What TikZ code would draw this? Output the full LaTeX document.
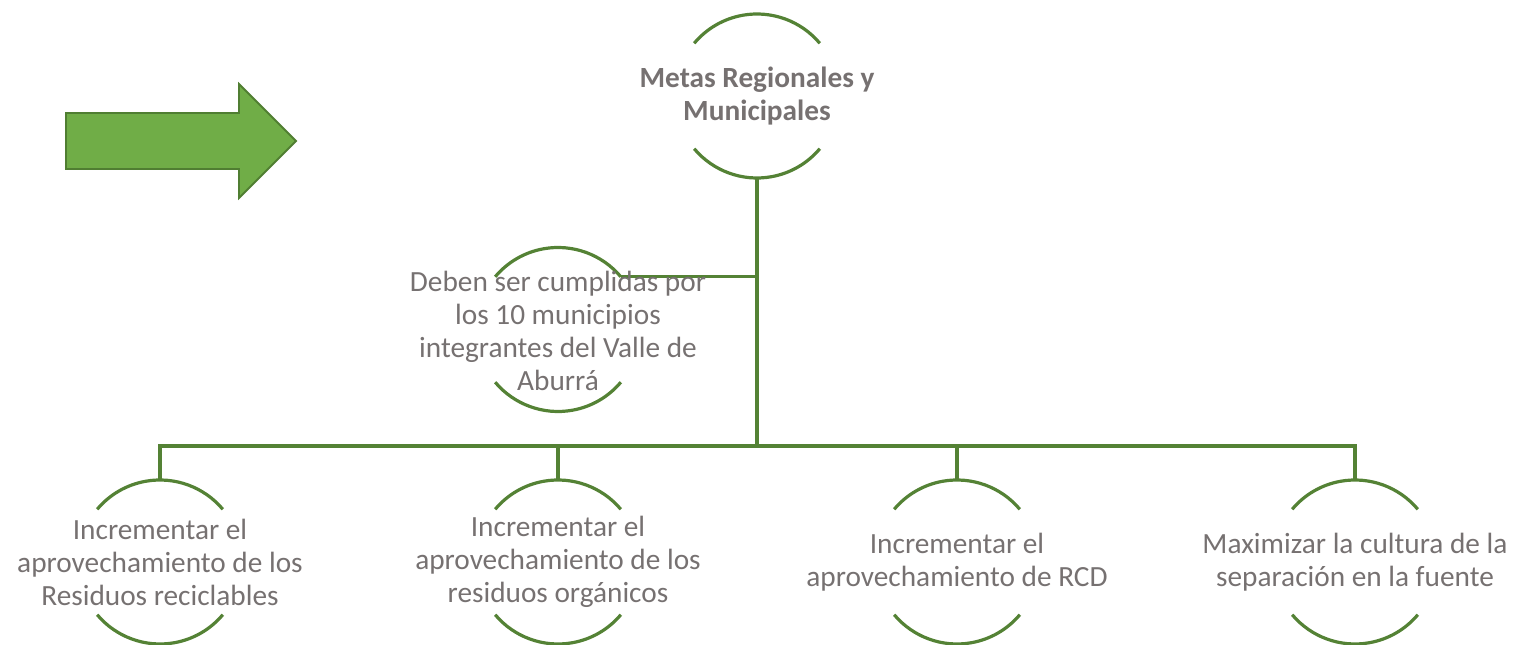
\documentclass[tikz,border=0pt]{standalone}
\usepackage{fontspec}
\setmainfont{Carlito}
\definecolor{lg}{HTML}{548235}
\definecolor{af}{HTML}{70AD47}
\definecolor{ab}{HTML}{507E32}
\definecolor{tg}{HTML}{767171}
\tikzset{
  line/.style={draw=lg,line width=3.2pt},
  gcirc/.style={circle,minimum size=164pt,inner sep=0pt,outer sep=0pt,draw=none},
  lbl/.style={text=tg,align=center,font=\fontsize{29.3}{33}\selectfont,inner sep=0pt},
  arc/.style={draw=lg,line width=3.2pt},
  bigarrow/.style={fill=af,draw=ab,line width=1.8pt,line join=miter}
}
\newcommand\goalnode[4]{%
  \node[gcirc] (#1) at (#2,#3) {};
  \draw[arc] (#1.40) arc[start angle=40,end angle=140,radius=82];
  \draw[arc] (#1.220) arc[start angle=220,end angle=320,radius=82];
}
\begin{document}
\begin{tikzpicture}[x=1pt,y=1pt]
\useasboundingbox (0,0) rectangle (1513,645);
% block arrow
\draw[bigarrow] (66,532) -- (239,532) -- (239,561) -- (296,504) -- (239,447) -- (239,476) -- (66,476) -- cycle;
% nodes
\goalnode{top}{757}{549}{}
\goalnode{side}{558}{315.5}{}
\goalnode{b1}{160}{83}{}
\goalnode{b2}{558}{83}{}
\goalnode{b3}{957}{83}{}
\goalnode{b4}{1355}{83}{}
\coordinate (bus) at (757,199);
% connectors
\draw[line] (top.south) -- (bus);
\draw[line] (side.40) -- (side.40 -| top.south);
\draw[line] (b1.north) -- (b1.north |- bus) -- (b4.north |- bus) -- (b4.north);
\draw[line] (b2.north) -- (b2.north |- bus);
\draw[line] (b3.north) -- (b3.north |- bus);
% labels
\node[lbl,font=\fontsize{29.3}{33}\selectfont\bfseries] (top-t) at (top) {Metas Regionales y\\Municipales};
\node[lbl] (side-t) at (558,314) {Deben ser cumplidas por\\los 10 municipios\\integrantes del Valle de\\Aburrá};
\node[lbl] (b1-t) at (b1) {Incrementar el\\aprovechamiento de los\\Residuos reciclables};
\node[lbl] (b2-t) at (b2) {Incrementar el\\aprovechamiento de los\\residuos orgánicos};
\node[lbl] (b3-t) at (b3) {Incrementar el\\aprovechamiento de RCD};
\node[lbl] (b4-t) at (b4) {Maximizar la cultura de la\\separación en la fuente};
\end{tikzpicture}
\end{document}
